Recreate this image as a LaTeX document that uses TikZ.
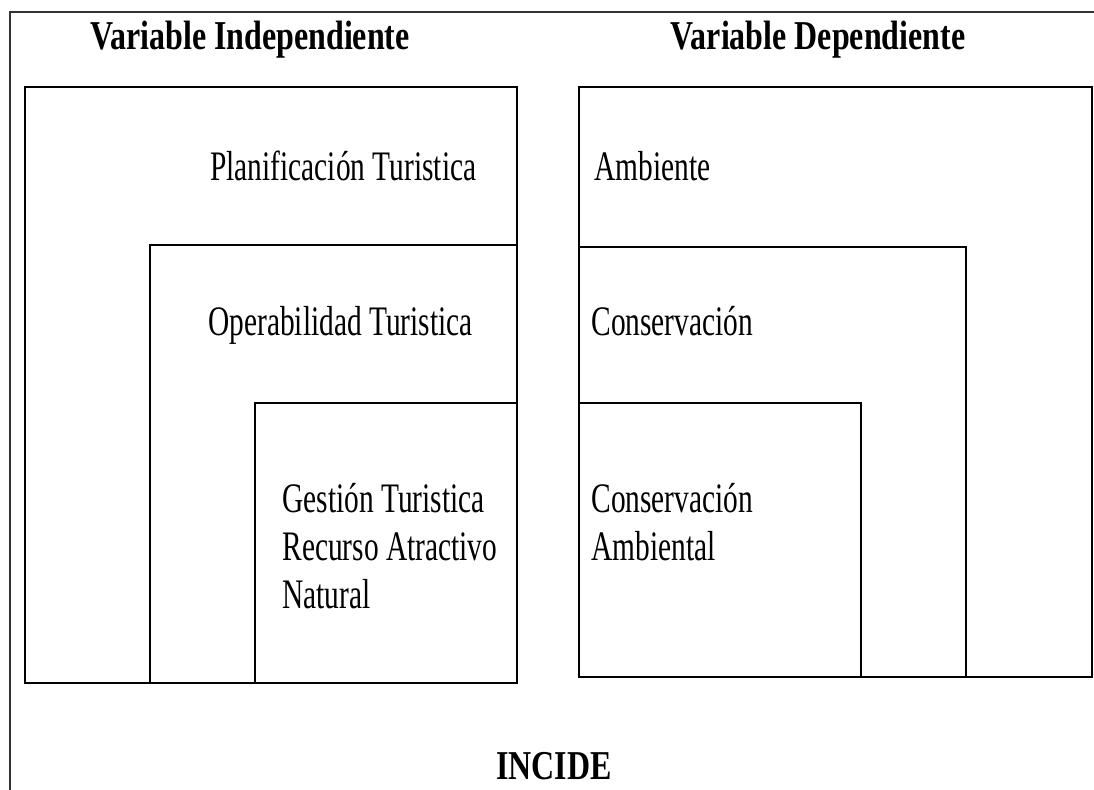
\documentclass[tikz,border=0pt]{standalone}
\usepackage{fontspec}
\setmainfont{Liberation Serif}[FakeStretch=0.7, BoldFeatures={FakeStretch=0.78}]
\usetikzlibrary{positioning}

\begin{document}
\begin{tikzpicture}[x=0.5pt, y=-0.5pt,
    box/.style={draw, line width=1pt},
    ttl/.style={font=\fontsize{20.5}{24}\selectfont\bfseries, inner sep=0pt, anchor=base},
    lbl/.style={font=\fontsize{21}{24}\selectfont, inner sep=0pt, anchor=base west, align=left}]
    \useasboundingbox (0,0) rectangle (1094,790);
    % marco exterior
    \draw[line width=0.7pt, black!80] (10,790) -- (10,12) -- (1094,12);

    % Variable independiente
    \node[ttl] (indep) at (250,50) {Variable Independiente};
    \draw[box] (25,87) rectangle (517,683);
    \draw[box] (150,245) rectangle (517,683);
    \draw[box] (255,403) rectangle (517,683);
    \node[lbl] (plan) at (210,181) {Planificación Turistica};
    \node[lbl] (oper) at (208,336) {Operabilidad Turistica};
    \node[lbl] (gest) at (282,609) {Gestión Turistica\\Recurso Atractivo\\Natural};

    % Variable dependiente
    \node[ttl] (dep) at (818,50) {Variable Dependiente};
    \draw[box] (579,87) rectangle (1092,677);
    \draw[box] (579,247) rectangle (966,677);
    \draw[box] (579,403) rectangle (861,677);
    \node[lbl] (amb) at (594,181) {Ambiente};
    \node[lbl] (cons) at (591,336) {Conservación};
    \node[lbl] (consamb) at (591,561) {Conservación\\Ambiental};

    \node[ttl] (incide) at (554,780) {INCIDE};
\end{tikzpicture}
\end{document}
